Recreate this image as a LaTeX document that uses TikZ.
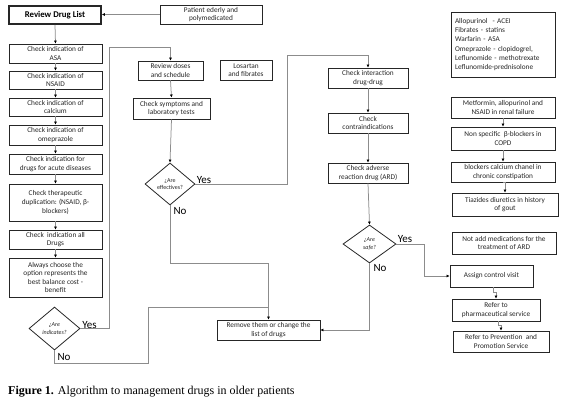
\documentclass[tikz,border=0pt]{standalone}
\usepackage{fontspec}
\setmainfont{Carlito}
\newfontfamily\capfont{Liberation Serif}
\usetikzlibrary{arrows.meta,shapes.geometric,calc}
\begin{document}
\begin{tikzpicture}[x=1pt,y=-1pt,
  box/.style={draw=black!85,line width=0.8pt,fill=white,inner sep=1pt,align=center,
    font=\fontsize{7.3}{8.6}\selectfont,text=black!85},
  dia/.style={draw=black!85,line width=0.8pt,shape=diamond,inner sep=0pt,align=center,
    font=\fontsize{6}{7.5}\selectfont,text=black!85},
  conn/.style={draw=black!45,line width=0.75pt},
  arr/.style={conn,-{Latex[length=3pt,width=3pt,color=black]}},
  yn/.style={font=\fontsize{11}{12}\selectfont,inner sep=0pt}]
\useasboundingbox (0,0) rectangle (580,405);
% left column
\node[box,line width=1.6pt,minimum width=92pt,minimum height=18pt,font=\bfseries\fontsize{8.8}{10}\selectfont,text=black] (review) at (55,15) {Review Drug List};
\node[box,minimum width=102pt,minimum height=19pt] (patient) at (211,14.5) {Patient ederly and\\polymedicated};
\node[box,minimum width=93pt,minimum height=19pt] (asa) at (55.5,53.5) {Check indication of\\ASA};
\node[box,minimum width=93pt,minimum height=18pt] (nsaid) at (55.5,80) {Check indication of\\NSAID};
\node[box,minimum width=93pt,minimum height=18pt] (calcium) at (55.5,107) {Check indication of\\calcium};
\node[box,minimum width=93pt,minimum height=20pt] (omep) at (55.5,135) {Check indication of\\omeprazole};
\node[box,minimum width=93pt,minimum height=20pt] (acute) at (55.5,164) {Check indication for\\drugs for acute diseases};
\node[box,minimum width=93pt,minimum height=37pt] (dup) at (55.5,202.5) {Check therapeutic\\duplication: (NSAID, β-\\blockers)};
\node[box,minimum width=93pt,minimum height=19pt] (all) at (55.5,239.5) {Check \ indication all\\Drugs};
\node[box,minimum width=93pt,minimum height=39pt] (always) at (55.5,277.5) {Always choose the\\option represents the\\best balance cost -\\benefit};
\node[dia,minimum width=51pt,minimum height=43pt] (indic) at (54.5,328.5) {\itshape ¿Are\\\itshape indicates?};
% middle column
\node[box,minimum width=65pt,minimum height=19pt] (doses) at (170.5,70.5) {Review doses\\and schedule};
\node[box,line width=1pt,minimum width=77pt,minimum height=21pt] (symp) at (171.5,108.5) {Check symptoms and\\laboratory tests};
\node[box,minimum width=52pt,minimum height=20pt] (losartan) at (246,70) {Losartan\\and fibrates};
\node[dia,minimum width=50pt,minimum height=42pt] (eff) at (170,184) {¿Are\\effectives?};
\node[box,minimum width=103pt,minimum height=20pt] (remove) at (268.5,330) {Remove them or change the\\list of drugs};
% third column
\node[box,minimum width=80pt,minimum height=20pt] (inter) at (368,78) {Check interaction\\drug-drug};
\node[box,minimum width=80pt,minimum height=20pt] (contra) at (368,123) {Check\\contraindications};
\node[box,minimum width=80pt,minimum height=20pt] (adverse) at (368,173) {Check adverse\\reaction drug (ARD)};
\node[dia,minimum width=53pt,minimum height=38pt] (safe) at (369.5,244) {\itshape ¿Are\\\itshape safe?};
% right column
\node[box,minimum width=104pt,minimum height=65pt,align=left,text width=96pt,font=\fontsize{7.3}{9.3}\selectfont] (list) at (503,44.5) {Allopurinol \ - ACEI\\Fibrates - statins\\Warfarin - ASA\\Omeprazole - clopidogrel,\\Leflunomide - methotrexate\\Leflunomide-prednisolone};
\node[box,minimum width=104pt,minimum height=21pt] (metf) at (503,107.5) {Metformin, allopurinol and\\NSAID in renal failure};
\node[box,minimum width=104pt,minimum height=23pt] (nonspec) at (503,138.5) {Non specific \ β-blockers in\\COPD};
\node[box,minimum width=104pt,minimum height=20pt] (ccb) at (503,172) {blockers calcium chanel in\\chronic constipation};
\node[box,minimum width=106pt,minimum height=23pt] (tiaz) at (505,204.5) {Tiazides diuretics in history\\of gout};
\node[box,minimum width=104pt,minimum height=22pt] (notadd) at (504,243) {Not add medications for the\\treatment of ARD};
\node[box,minimum width=83pt,minimum height=22pt] (assign) at (491.5,276) {Assign control visit};
\node[box,minimum width=88pt,minimum height=22pt] (pharm) at (496,310) {Refer to\\pharmaceutical service};
\node[box,minimum width=96pt,minimum height=21pt] (prev) at (501,341.5) {Refer to Prevention \ and\\Promotion Service};
% labels
\node[yn] (y1) at (89.5,325) {Yes};
\node[yn] (n1) at (64,357) {No};
\node[yn] (y2) at (204,180) {Yes};
\node[yn] (n2) at (180,211) {No};
\node[yn] (y3) at (405,239) {Yes};
\node[yn] (n3) at (380,268) {No};
% caption
\node[anchor=west,inner sep=0pt,font=\capfont\fontsize{12}{14}\selectfont] (cap) at (8,392) {\textbf{Figure 1.} Algorithm to management drugs in older patients};
% coordinates
\coordinate (c1) at (109,47);
\coordinate (c2) at (287,55);
\coordinate (c3) at (268.5,263);
\coordinate (c4) at (148,363);
\coordinate (c5) at (268.5,307);
\coordinate (c6) at (424,276);
% connectors
\draw[arr] (patient.west) -- (patient.west -| review.east);
\draw[arr] (review.south) -- (asa.north);
\draw[arr] (asa.south) -- (nsaid.north);
\draw[arr] (nsaid.south) -- (calcium.north);
\draw[arr] (calcium.south) -- (omep.north);
\draw[arr] (omep.south) -- (acute.north);
\draw[arr] (acute.south) -- (dup.north);
\draw[arr] (dup.south) -- (all.north);
\draw[arr] (all.south) -- (always.north);
\draw[arr] (indic.east) -| (c1) -| (doses.north);
\draw[conn] (indic.south) |- (c4) |- (c5);
\draw[arr] (doses.south) -- (symp.north);
\draw[arr] (symp.south) -- (eff.north);
\draw[arr] (eff.east) -| (c2) -| (inter.north);
\draw[arr] (eff.south) |- (c3) -- (remove.north);
\draw[arr] (inter.south) -- (contra.north);
\draw[arr] (contra.south) -- (adverse.north);
\draw[arr] (adverse.south) -- (safe.north);
\draw[arr] (safe.east) -| (c6) -- (assign.west);
\draw[arr] (safe.south) |- (remove.east);
\draw[arr] (metf.south) -- (nonspec.north);
\draw[arr] (nonspec.south) -- (ccb.north);
\draw[arr] (ccb.south) -- (tiaz.south |- ccb.south) -- (tiaz.north);
\draw[arr] ([xshift=1.5pt]assign.south) -- ++(0,5) -| (pharm.north);
\draw[arr] ([xshift=2pt]pharm.south) -- ++(0,4) -| (prev.north);
\end{tikzpicture}
\end{document}
